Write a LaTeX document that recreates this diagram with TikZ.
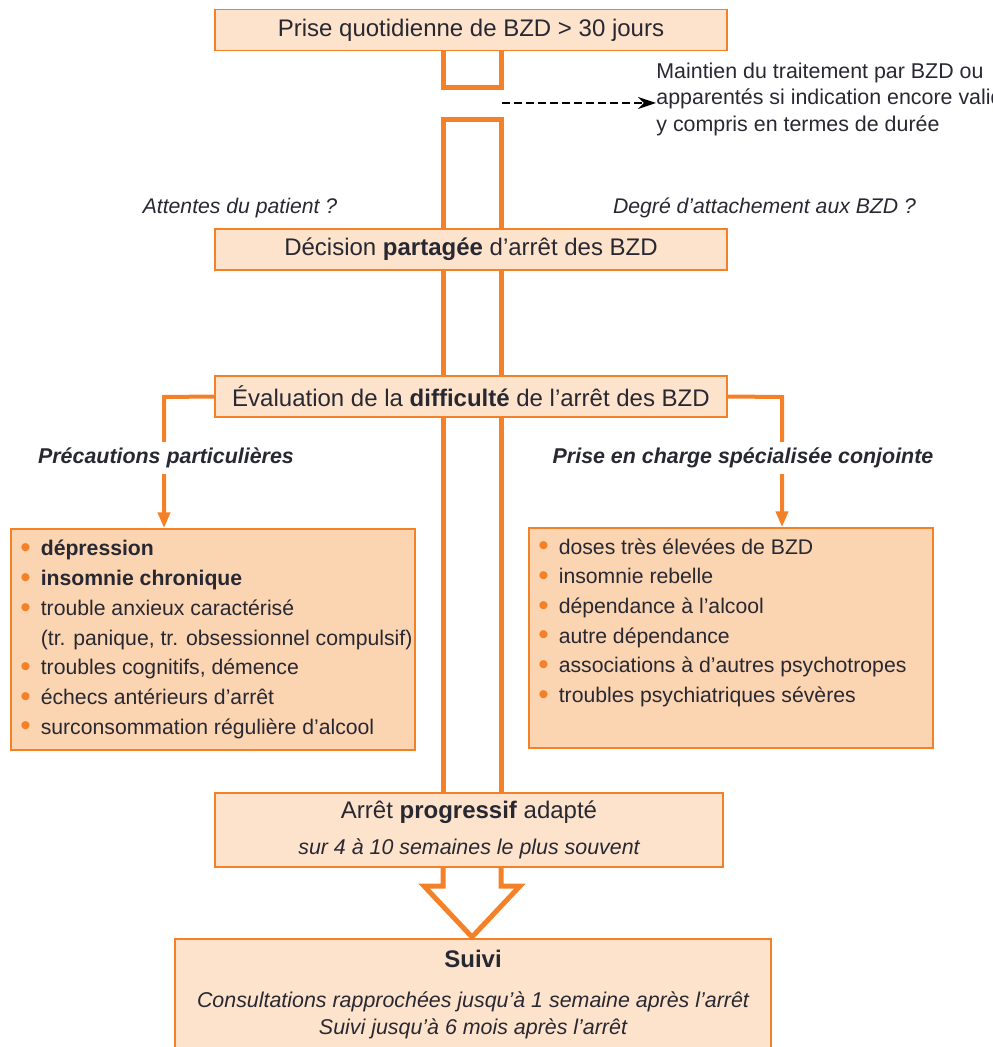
\documentclass[tikz,border=0pt]{standalone}
\usepackage{fontspec}
\setmainfont{Liberation Sans}
\usepackage{xcolor}
\usepackage{graphicx}
\usepackage{tikz}
\usetikzlibrary{arrows.meta,positioning,calc,backgrounds}
\definecolor{flowor}{RGB}{244,128,40}
\definecolor{lightpeach}{RGB}{253,227,204}
\definecolor{peach}{RGB}{251,212,178}
\definecolor{inkgrey}{RGB}{40,40,50}
\newcommand{\puce}{\makebox[10.2pt][l]{\raisebox{-0.9pt}{\scalebox{1.4}{\textcolor{flowor}{\textbullet}}}}}

\begin{document}
\begin{tikzpicture}[x=0.5pt,y=-0.5pt,
 every node/.style={text=inkgrey},
 box/.style={draw=flowor,line width=0.75pt,fill=lightpeach,minimum width=256pt,minimum height=20.5pt,inner sep=0pt,font=\fontsize{12}{14}\selectfont},
 listbox/.style={draw=flowor,line width=0.75pt,fill=peach,minimum width=202pt,minimum height=110.5pt},
 listtxt/.style={anchor=north west,align=left,inner sep=0pt,font=\fontsize{10.6}{14.85}\selectfont},
 query/.style={font=\fontsize{10.6}{12}\selectfont\itshape},
 tag/.style={font=\fontsize{10.7}{12}\selectfont\bfseries\itshape,fill=white,inner xsep=1pt,inner ysep=3pt},
 shaft/.style={draw=flowor,line width=2.5pt,line join=miter},
 branch/.style={draw=flowor,line width=2pt,-{Triangle[length=8pt,width=6pt]}},
 dasharr/.style={draw=black,line width=1.2pt,dash pattern=on 4pt off 2pt,-{Stealth[length=9pt,width=6pt]}}
]
\useasboundingbox (0,0) rectangle (992,1047);
\node[box] (b0) at (471,30) {Prise quotidienne de BZD > 30 jours};
\node[box] (b1) at (471,249.5) {Décision \textbf{partagée} d’arrêt des BZD};
\node[box] (b2) at (471,396.5) {Évaluation de la \textbf{difficulté} de l’arrêt des BZD};
\node[box,minimum width=254pt,minimum height=37pt,align=center,font=\fontsize{12}{18}\selectfont] (b3) at (469,830)
 {Arrêt \textbf{progressif} adapté\\{\fontsize{10.7}{12}\selectfont\itshape sur 4 à 10 semaines le plus souvent}};
\node[box,minimum width=298pt,minimum height=70pt,anchor=north] (b4) at (473,938) {};
\node[anchor=north,align=center,inner sep=0pt,font=\fontsize{10.7}{13.5}\selectfont\itshape] (b4t) at (473,950)
 {{\upshape\bfseries\fontsize{12}{14}\selectfont Suivi}\\[6.5pt]Consultations rapprochées jusqu’à 1 semaine après l’arrêt\\Suivi jusqu’à 6 mois après l’arrêt};

\node[listbox] (l0) at (213,639.5) {};
\node[listbox,minimum height=110pt] (r0) at (731,638) {};
\node[listtxt] (l1) at (20,540) {\puce\textbf{dépression}\\\puce\textbf{insomnie chronique}\\\puce trouble anxieux caractérisé\\
 \hspace*{10.2pt}(tr. panique, tr. obsessionnel compulsif)\\\puce troubles cognitifs, démence\\\puce échecs antérieurs d’arrêt\\
 \puce surconsommation régulière d’alcool};
\node[listtxt] (r1) at (538,538) {\puce doses très élevées de BZD\\\puce insomnie rebelle\\\puce dépendance à l’alcool\\
 \puce autre dépendance\\\puce associations à d’autres psychotropes\\\puce troubles psychiatriques sévères};

\node[query] (q1) at (240,208) {Attentes du patient ?};
\node[query] (q2) at (764.5,208) {Degré d’attachement aux BZD ?};
\node[tag] (t1) at (166,458) {Précautions particulières};
\node[tag] (t2) at (743,458) {Prise en charge spécialisée conjointe};
\node[anchor=west,align=left,inner sep=0pt,font=\fontsize{10.7}{13.25}\selectfont] (m0) at (656,99)
 {Maintien du traitement par BZD ou\\apparentés si indication encore valide,\\y compris en termes de durée};

\coordinate (lk) at (164,397);
\coordinate (rk) at (782,397);
\coordinate (gap) at (502,103);
\draw[dasharr] (gap)--(gap-|m0.west);

\begin{scope}[on background layer]
\draw[shaft] (443,51)--(443,88)--(501,88)--(501,51);
\draw[shaft] (443,793)--(443,120)--(501,120)--(501,793);
\draw[shaft] (443,867)--(443,886)--(424,886)--(472,937)--(520,886)--(501,886)--(501,867);
\draw[branch] (b2.west)--(lk)--(lk|-l0.north);
\draw[branch] (b2.east)--(rk)--(rk|-r0.north);
\end{scope}
\end{tikzpicture}
\end{document}
